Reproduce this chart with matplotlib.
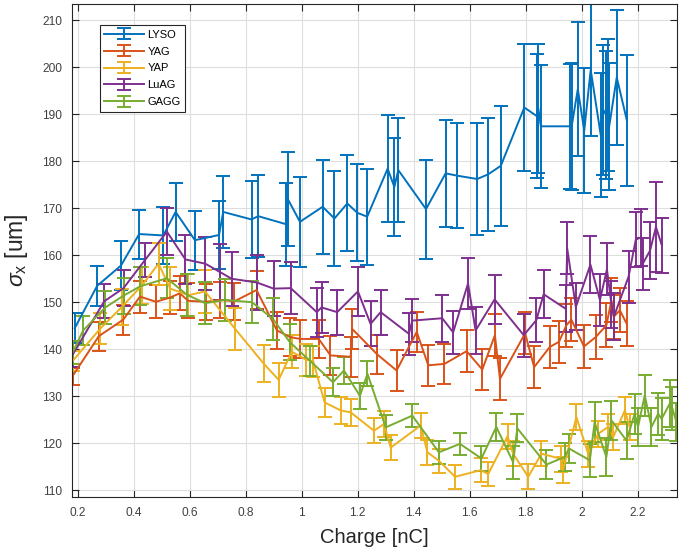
import matplotlib
matplotlib.use("Agg")
import matplotlib.pyplot as plt
import numpy as np

plt.rcParams['font.family'] = ['Liberation Sans', 'DejaVu Sans']
plt.rcParams['mathtext.fontset'] = 'custom'
plt.rcParams['mathtext.rm'] = 'Liberation Sans'
plt.rcParams['mathtext.it'] = 'Liberation Sans:italic'

# ---- data: beam size sigma_x [um] vs bunch charge [nC] per scintillator ----
lyso_q = [0.19, 0.27, 0.355, 0.42, 0.506, 0.55, 0.619, 0.705, 0.72, 0.821,
          0.845, 0.944, 0.95, 0.994, 1.075, 1.117, 1.163, 1.199, 1.234, 1.307,
          1.331, 1.345, 1.444, 1.514, 1.556, 1.627, 1.666, 1.711, 1.795, 1.839,
          1.845, 1.854, 1.958, 1.964, 1.986, 2.009, 2.032, 2.068, 2.077, 2.087,
          2.095, 2.098, 2.125, 2.161]
lyso_s = [144.5, 153.5, 157.8, 164.5, 164.2, 169.2, 163.2, 164.3, 169.2, 167.6,
          168.3, 166.6, 172.0, 167.1, 170.3, 167.8, 171.0, 169.0, 168.2, 178.4,
          174.5, 178.1, 169.8, 177.4, 176.9, 176.2, 177.2, 179.0, 191.4, 189.6,
          191.2, 187.4, 187.4, 187.4, 195.3, 186.5, 199.4, 185.5, 190.9, 189.8,
          191.9, 187.4, 197.8, 188.7]
lyso_e = [3.2, 4.2, 5.2, 5.2, 6.0, 6.2, 6.3, 7.2, 7.7, 8.1,
          8.7, 8.8, 10.0, 9.6, 10.0, 10.0, 10.2, 10.3, 10.2, 11.3,
          10.5, 11.1, 10.5, 11.3, 11.2, 11.8, 12.0, 12.7, 13.5, 13.2,
          13.7, 13.1, 13.3, 13.5, 14.3, 13.3, 14.1, 13.2, 13.8, 13.7,
          14.0, 13.5, 14.3, 13.9]

yag_q = [0.182, 0.276, 0.363, 0.423, 0.48, 0.53, 0.565, 0.595, 0.66, 0.71,
         0.76, 0.839, 0.912, 0.959, 0.995, 1.061, 1.103, 1.175, 1.181, 1.27,
         1.339, 1.411, 1.452, 1.51, 1.589, 1.645, 1.69, 1.708, 1.798, 1.83,
         1.886, 1.919, 1.945, 1.963, 2.008, 2.05, 2.088, 2.106, 2.114, 2.136,
         2.16]
yag_s = [134.3, 142.8, 146.3, 151.2, 150.1, 151.0, 151.9, 150.3, 150.1, 150.5,
         150.2, 152.6, 144.0, 142.6, 142.2, 142.2, 138.7, 138.4, 144.3, 138.9,
         135.5, 143.7, 136.6, 136.9, 139.6, 135.7, 143.0, 133.7, 143.4, 136.2,
         140.5, 141.6, 145.1, 146.3, 140.6, 142.6, 145.1, 150.4, 146.9, 148.3,
         145.5]
yag_e = [1.8, 3.1, 3.2, 3.4, 3.5, 3.5, 3.6, 3.7, 3.8, 3.9,
         3.9, 4.0, 4.0, 4.0, 4.1, 4.1, 4.2, 4.2, 4.2, 4.2,
         4.3, 4.3, 4.3, 4.3, 4.4, 4.4, 4.4, 4.5, 4.5, 4.5,
         4.5, 4.5, 4.6, 4.6, 4.6, 4.6, 4.7, 4.7, 4.7, 4.7,
         4.8]

yap_q = [0.182, 0.281, 0.358, 0.43, 0.489, 0.531, 0.596, 0.655, 0.763, 0.864,
         0.918, 0.965, 1.015, 1.041, 1.082, 1.14, 1.175, 1.258, 1.294, 1.318,
         1.425, 1.449, 1.49, 1.548, 1.639, 1.666, 1.735, 1.755, 1.809, 1.856,
         1.927, 1.933, 1.981, 2.023, 2.058, 2.094, 2.112, 2.154, 2.171]
yap_s = [137.5, 144.4, 149.0, 153.6, 158.2, 152.9, 151.5, 152.3, 144.3, 137.0,
         133.5, 139.5, 137.8, 137.5, 128.7, 127.0, 126.6, 122.7, 124.1, 119.1,
         123.8, 118.1, 116.3, 112.9, 114.3, 113.5, 121.5, 117.8, 112.9, 117.8,
         116.7, 114.3, 125.6, 117.8, 122.0, 123.5, 121.3, 127.0, 123.5]
yap_e = [2.2, 3.3, 3.8, 4.0, 4.5, 4.5, 4.5, 4.5, 4.5, 4.0,
         3.6, 3.5, 3.4, 3.3, 3.0, 2.8, 2.8, 2.7, 2.7, 2.7,
         2.6, 2.6, 2.6, 2.6, 2.6, 2.6, 2.6, 2.7, 2.7, 2.7,
         2.7, 2.7, 2.7, 2.8, 2.8, 2.8, 2.8, 2.8, 2.8]

luag_q = [0.184, 0.295, 0.364, 0.441, 0.519, 0.585, 0.656, 0.709, 0.75, 0.84,
          0.9, 0.961, 1.054, 1.071, 1.127, 1.201, 1.246, 1.282, 1.383, 1.395,
          1.502, 1.541, 1.594, 1.621, 1.689, 1.793, 1.838, 1.864, 1.943, 1.948,
          1.979, 2.031, 2.065, 2.09, 2.106, 2.115, 2.167, 2.193, 2.211, 2.218,
          2.244, 2.265, 2.286]
luag_s = [139.0, 150.2, 153.0, 159.0, 165.0, 159.1, 158.2, 156.4, 155.0, 154.2,
          152.9, 153.0, 147.9, 148.9, 147.9, 152.3, 145.4, 147.9, 143.3, 146.1,
          146.6, 143.6, 154.0, 144.0, 150.6, 143.0, 146.2, 151.7, 148.6, 161.5,
          149.0, 158.0, 150.5, 157.0, 149.5, 147.0, 155.4, 163.3, 163.8, 158.2,
          161.0, 166.0, 162.1]
luag_e = [2.8, 3.6, 3.9, 3.6, 5.0, 5.2, 5.6, 6.0, 5.7, 5.9,
          5.9, 5.5, 5.2, 5.5, 4.8, 5.3, 4.8, 4.8, 4.5, 4.5,
          5.0, 4.6, 5.5, 5.0, 5.2, 4.6, 4.6, 5.1, 5.0, 5.5,
          5.0, 6.0, 5.5, 5.5, 5.0, 5.0, 5.6, 5.8, 6.0, 5.5,
          6.0, 9.5, 5.9]

gagg_q = [0.182, 0.22, 0.299, 0.364, 0.424, 0.519, 0.59, 0.656, 0.728, 0.823,
          0.897, 0.958, 1.029, 1.112, 1.151, 1.208, 1.235, 1.30, 1.395, 1.49,
          1.565, 1.642, 1.695, 1.755, 1.77, 1.874, 1.939, 1.955, 2.029, 2.046,
          2.088, 2.106, 2.16, 2.189, 2.201, 2.225, 2.249, 2.273, 2.285, 2.314,
          2.324, 2.338]
gagg_s = [139.3, 144.0, 148.9, 151.4, 153.4, 155.1, 151.6, 149.8, 150.5, 150.0,
          146.5, 141.5, 137.6, 133.0, 135.5, 130.1, 134.8, 123.4, 125.9, 118.1,
          119.9, 116.8, 123.5, 116.0, 123.2, 115.5, 117.1, 118.9, 116.4, 124.5,
          117.1, 124.9, 120.6, 126.3, 123.5, 130.2, 123.5, 126.3, 125.2, 128.4,
          127.4, 124.5]
gagg_e = [2.5, 3.0, 3.5, 3.8, 4.0, 4.3, 4.5, 4.5, 4.5, 4.5,
          4.5, 3.8, 3.2, 3.0, 2.8, 2.7, 2.7, 2.6, 2.4, 2.4,
          2.3, 2.6, 3.0, 3.5, 3.0, 3.0, 3.0, 3.0, 3.5, 4.3,
          4.0, 4.2, 4.0, 4.2, 4.0, 4.3, 4.0, 4.5, 4.5, 5.0,
          4.5, 4.0]

labels = ['LYSO', 'YAG', 'YAP', 'LuAG', 'GAGG']
x_ticks = [0.2, 0.4, 0.6, 0.8, 1.0, 1.2, 1.4, 1.6, 1.8, 2.0, 2.2]
x_tick_labels = ['0.2', '0.4', '0.6', '0.8', '1', '1.2', '1.4', '1.6', '1.8', '2', '2.2']
y_ticks = [110, 120, 130, 140, 150, 160, 170, 180, 190, 200, 210]

series = [(lyso_q, lyso_s, lyso_e), (yag_q, yag_s, yag_e), (yap_q, yap_s, yap_e),
          (luag_q, luag_s, luag_e), (gagg_q, gagg_s, gagg_e)]
colors = ['#0072BD', '#D95319', '#EDB120', '#7E2F8E', '#77AC30']

fig = plt.figure(figsize=(6.79, 5.49), dpi=100)
ax = fig.add_axes([0.106, 0.0947, 0.891, 0.898])

for (q, s, e), c, lab in zip(series, colors, labels):
    ax.errorbar(q, s, yerr=e, color=c, lw=1.4, elinewidth=1.4,
                capsize=5, capthick=1.4, label=lab)

ax.set_xlim(0.18, 2.34)
ax.set_ylim(108.6, 213.4)
ax.set_xticks(x_ticks)
ax.set_xticklabels(x_tick_labels)
ax.set_yticks(y_ticks)

ax.grid(True, color='#DEDEDE', lw=0.8)
ax.set_axisbelow(True)
ax.tick_params(direction='in', length=5, width=0.8, top=True, right=True,
               labelsize=8.6, colors='#262626', labelcolor='#404040', pad=7)
for sp in ax.spines.values():
    sp.set_color('#262626')
    sp.set_linewidth(0.8)

ax.set_xlabel('Charge [nC]', fontsize=14.5, color='#262626', labelpad=7)
ax.set_ylabel(r'$\sigma_{\rm x}$ [um]', fontsize=16.5, color='#262626', labelpad=9)

leg = ax.legend(loc='upper left', bbox_to_anchor=(0.046, 0.957), borderaxespad=0,
                fontsize=8, fancybox=False, framealpha=1, edgecolor='#262626',
                handlelength=3.6, labelspacing=0.62, borderpad=0.4, handletextpad=0.3)
leg.get_frame().set_linewidth(0.8)

fig.savefig('out.png', dpi=100)
